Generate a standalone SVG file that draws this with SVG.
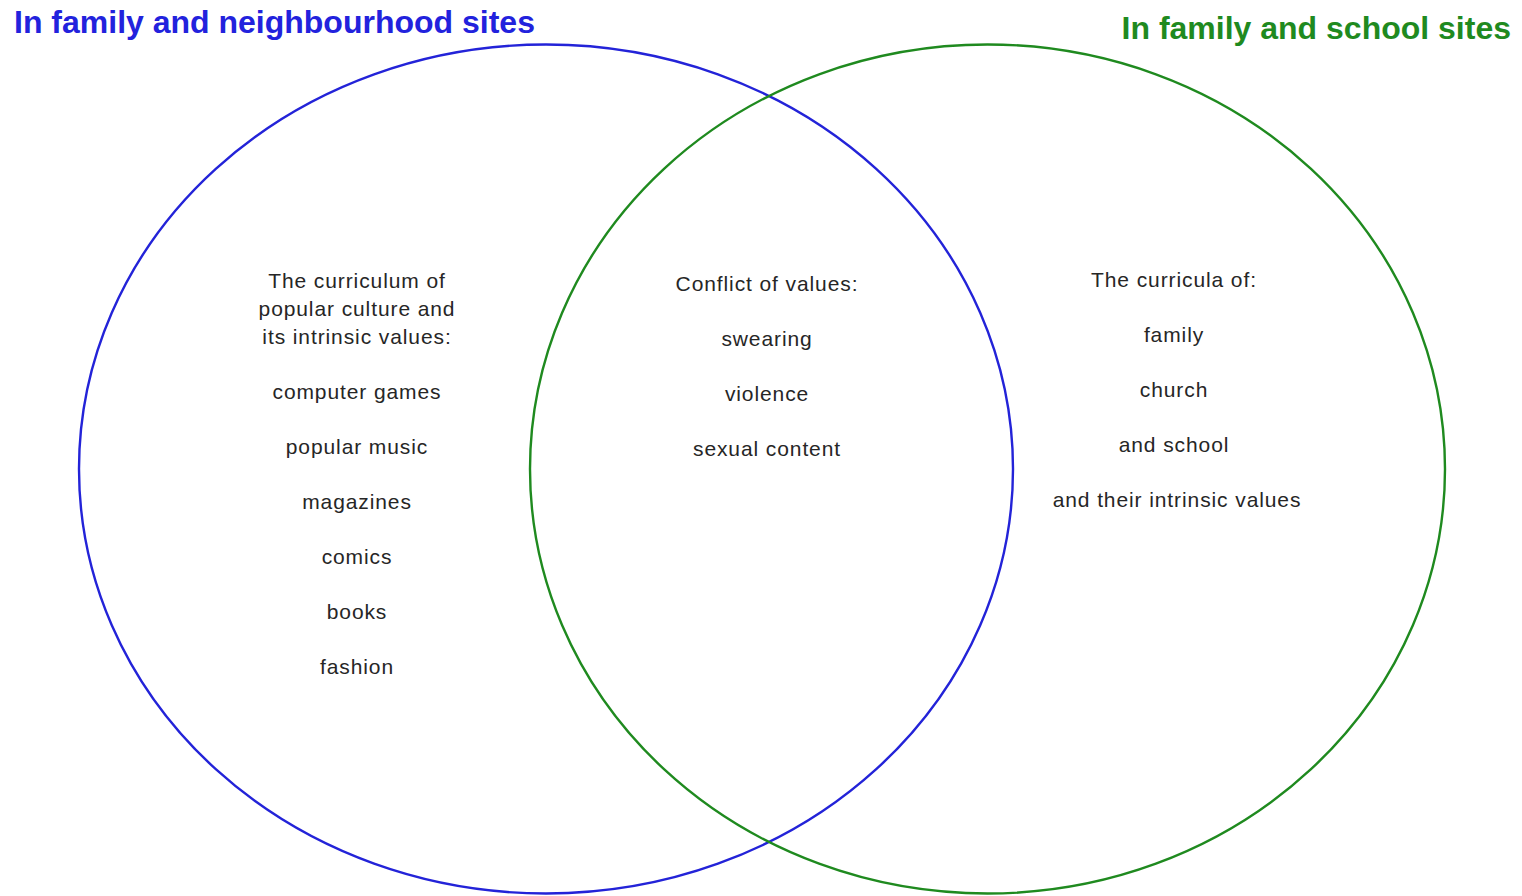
<svg xmlns="http://www.w3.org/2000/svg" width="1522" height="896" viewBox="0 0 1522 896">
<style>
.t{font-family:"Liberation Sans",Arial,sans-serif;font-size:21px;fill:#262626;text-anchor:middle;letter-spacing:0.9px}
.h{font-family:"Liberation Sans",Arial,sans-serif;font-size:32px;font-weight:bold}
.c{fill:none;stroke-width:2.4}
</style>
<rect width="1522" height="896" fill="#ffffff"/>
<g id="set-neighbourhood">
<ellipse class="c" cx="546" cy="469" rx="467" ry="424.5" stroke="#2323d8"/>
<text class="h" x="14" y="33" fill="#2222dd">In family and neighbourhood sites</text>
<text class="t" x="357" y="288">The curriculum of</text>
<text class="t" x="357" y="316">popular culture and</text>
<text class="t" x="357" y="344">its intrinsic values:</text>
<text class="t" x="357" y="399">computer games</text>
<text class="t" x="357" y="454">popular music</text>
<text class="t" x="357" y="509">magazines</text>
<text class="t" x="357" y="564">comics</text>
<text class="t" x="357" y="619">books</text>
<text class="t" x="357" y="674">fashion</text>
</g>
<g id="set-school">
<ellipse class="c" cx="987.5" cy="469" rx="457.5" ry="424.5" stroke="#1f8a1f"/>
<text class="h" x="1511" y="39" fill="#1f8a1f" text-anchor="end">In family and school sites</text>
<text class="t" x="1174" y="287">The curricula of:</text>
<text class="t" x="1174" y="342">family</text>
<text class="t" x="1174" y="397">church</text>
<text class="t" x="1174" y="452">and school</text>
<text class="t" x="1177" y="507">and their intrinsic values</text>
</g>
<g id="overlap">
<text class="t" x="767" y="291">Conflict of values:</text>
<text class="t" x="767" y="346">swearing</text>
<text class="t" x="767" y="401">violence</text>
<text class="t" x="767" y="456">sexual content</text>
</g>
<g id="connectors"></g>
</svg>
